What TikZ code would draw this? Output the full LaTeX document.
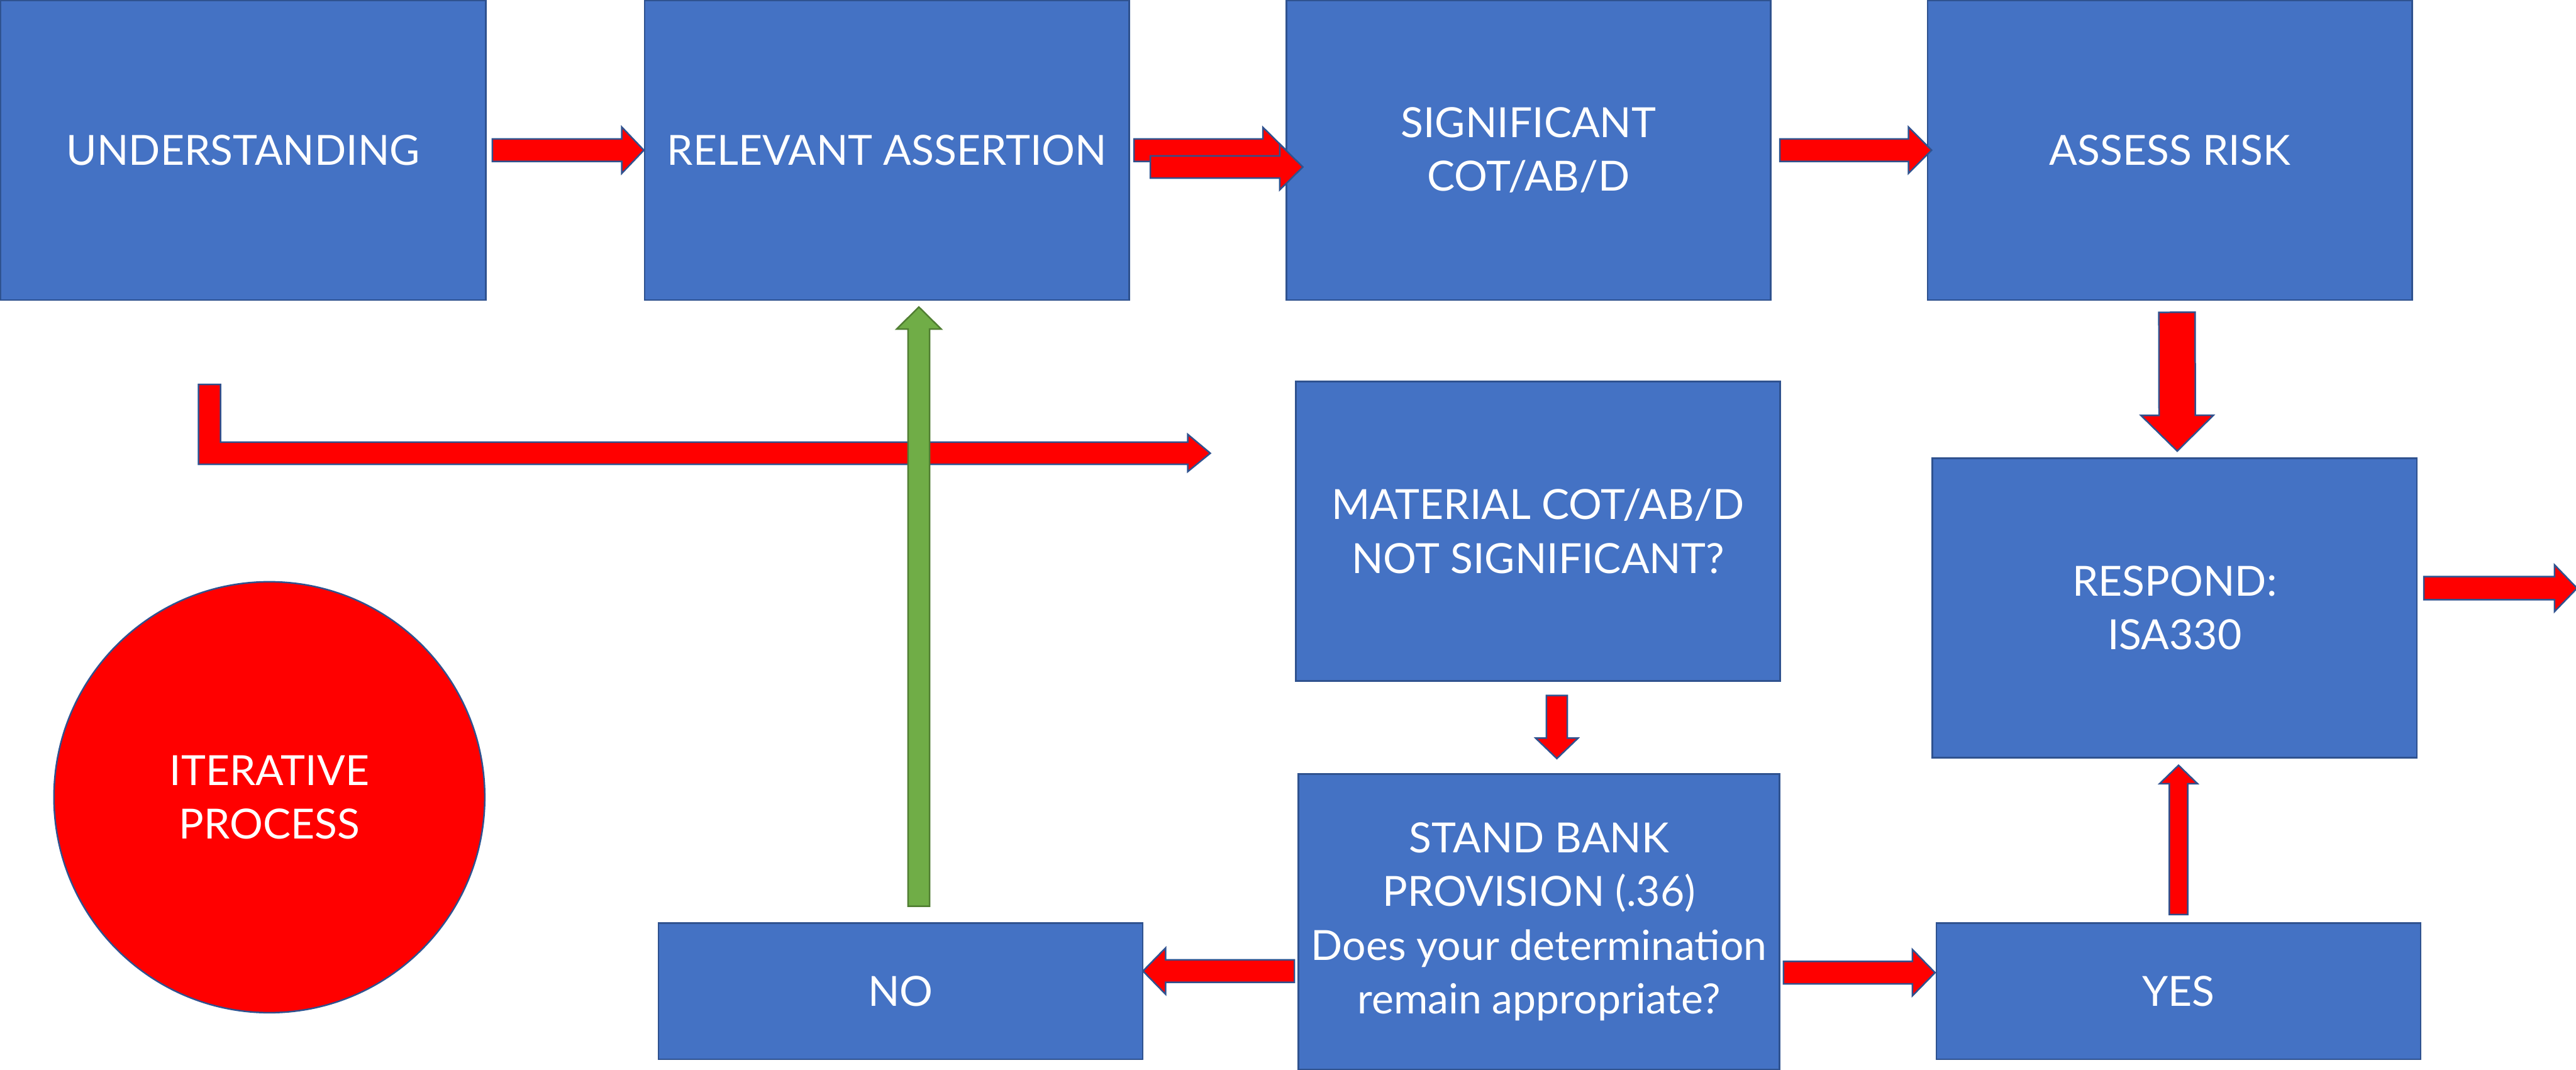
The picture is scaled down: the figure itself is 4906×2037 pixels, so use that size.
\documentclass[tikz,border=0pt]{standalone}
\usepackage{fontspec}
\setmainfont{Lato}
\usetikzlibrary{calc}

\definecolor{boxfill}{HTML}{4472C4}
\definecolor{edgeblue}{HTML}{2F528F}
\definecolor{redfill}{HTML}{FF0000}
\definecolor{greenfill}{HTML}{70AD47}
\definecolor{greenedge}{HTML}{507E32}

\tikzset{
  labelfont/.style={text=white, align=center, font=\fontsize{22.5pt}{29pt}\selectfont},
  procbox/.style={draw=edgeblue, fill=boxfill, line width=0.85pt, inner sep=0pt,
    rectangle, labelfont},
  wide/.style={minimum width=9.22cm},
  tall/.style={minimum height=5.70cm},
  redarrow/.style={fill=redfill, draw=edgeblue, line width=0.85pt, line join=miter},
  greenarrow/.style={fill=greenfill, draw=greenedge, line width=0.85pt, line join=miter},
}

% block arrow: [style]{tail}{tip}{shaft half width}{head half width}{head length}
\newcommand{\blockarrow}[6][]{%
  \coordinate (ba-tail) at #2;
  \coordinate (ba-tip) at #3;
  \coordinate (ba-base) at ($(ba-tip)!#6!(ba-tail)$);
  \filldraw[redarrow,#1]
    ($(ba-tail)!#4!90:(ba-tip)$) -- ($(ba-base)!#4!90:(ba-tip)$) --
    ($(ba-base)!#5!90:(ba-tip)$) -- (ba-tip) --
    ($(ba-base)!#5!-90:(ba-tip)$) -- ($(ba-base)!#4!-90:(ba-tip)$) --
    ($(ba-tail)!#4!-90:(ba-tip)$) -- cycle;
}

\begin{document}
\begin{tikzpicture}[x=0.01cm, y=-0.01cm]
  \useasboundingbox (0,0) rectangle (4906,2037);

  % process boxes
  \node[procbox, wide, tall, minimum width=9.24cm] (u) at (463,286) {UNDERSTANDING};
  \node[procbox, wide, tall] (ra) at (1689,286) {RELEVANT ASSERTION};
  \node[procbox, wide, tall] (sig) at (2911,286) {SIGNIFICANT\\COT/AB/D};
  \node[procbox, wide, tall] (ar) at (4132.5,286) {ASSESS RISK};
  \node[procbox, wide, tall] (mat) at (2929,1011.5) {MATERIAL COT/AB/D\\NOT SIGNIFICANT?};
  \node[procbox, wide, tall] (resp) at (4141.5,1157.5) {RESPOND:\\ISA330};
  \node[procbox, minimum width=9.16cm, minimum height=5.62cm] (stand) at (2931,1755)
    {STAND BANK\\PROVISION (.36)\\Does your determination\\remain appropriate?};
  \node[procbox, wide, minimum height=2.59cm] (no) at (1715,1887.5) {NO};
  \node[procbox, wide, minimum height=2.59cm] (yes) at (4149,1887.5) {YES};

  % iterative process marker
  \node[circle, fill=redfill, draw=edgeblue, line width=0.85pt, minimum size=8.2cm,
    inner sep=0pt, labelfont] (iter) at (513,1518) {ITERATIVE\\PROCESS};

  % bent arrow running under the top row
  \coordinate (bend-tip) at (2305,863);
  \filldraw[redarrow] (378,732) -- (420,732) -- (420,842) -- (2262,842) -- (2262,827)
    -- (bend-tip) -- (2262,898) -- (2262,884) -- (378,884) -- cycle;

  % NO back to RELEVANT ASSERTION
  \blockarrow[greenarrow]{($(no.north)+(35,-31)$)}{($(ra.south)+(61,12)$)}{0.205cm}{0.425cm}{0.42cm}

  % top row
  \blockarrow{($(u.east)+(11,0)$)}{(ra.west)}{0.215cm}{0.44cm}{0.42cm}
  \blockarrow{($(ra.east)+(8,0)$)}{($(sig.west)+(1,0)$)}{0.215cm}{0.435cm}{0.44cm}
  \blockarrow{($(ra.east)+(39,32)$)}{($(sig.west)+(33,32)$)}{0.21cm}{0.435cm}{0.44cm}
  \blockarrow{($(sig.east)+(16,0)$)}{($(ar.west)+(9,0)$)}{0.215cm}{0.44cm}{0.44cm}

  % right column
  \blockarrow{($(ar.south)+(13.5,22)$)}{($(resp.north)+(5,-12)$)}{0.345cm}{0.69cm}{0.68cm}
  \coordinate (out) at (4908,1120);
  \blockarrow{($(resp.east)+(12,-37.5)$)}{(out)}{0.22cm}{0.445cm}{0.43cm}
  \blockarrow{($(yes.north)+(0,-15)$)}{($(resp.south)+(7.5,13)$)}{0.175cm}{0.36cm}{0.35cm}

  % middle column
  \blockarrow{($(mat.south)+(36,26)$)}{($(stand.north)+(34,-28)$)}{0.20cm}{0.405cm}{0.39cm}
  \blockarrow{($(stand.west)+(-6,94)$)}{($(no.east)+(-1,-38.5)$)}{0.215cm}{0.44cm}{0.43cm}
  \blockarrow{($(stand.east)+(6,97)$)}{($(yes.west)+(-1,-35.5)$)}{0.215cm}{0.44cm}{0.43cm}
\end{tikzpicture}
\end{document}
